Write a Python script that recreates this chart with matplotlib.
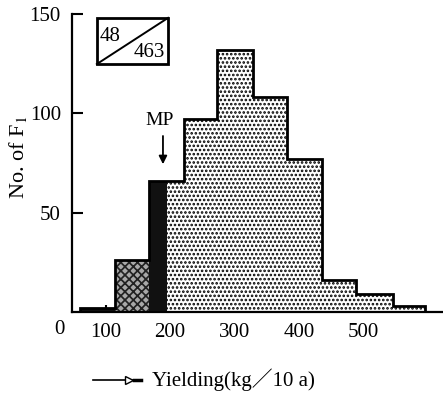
import matplotlib
matplotlib.use("Agg")
import matplotlib.pyplot as plt
from matplotlib.lines import Line2D
from matplotlib.patches import Rectangle

plt.rcParams["font.family"] = ["Liberation Serif", "Noto Sans CJK JP", "DejaVu Sans"]
plt.rcParams["mathtext.fontset"] = "stix"
plt.rcParams["hatch.linewidth"] = 1.25

# yield class edges (kg/10a) and number of F1 plants per class
BIN_EDGES = [60, 115, 168, 222, 273, 328, 382, 435, 488, 545, 595]
COUNTS = [2, 26, 66, 97, 132, 108, 77, 16, 9, 3]
# fill of the part of each class below the mid-parent value
LOW_FILL = ["black", "grey", "black", "dots", "dots", "dots", "dots", "dots", "dots", "dots"]
MP_VALUE = 195
BOX_TOP = "48"
BOX_BOTTOM = "463"
X_TICKS = [100, 200, 300, 400, 500]
Y_TICKS = [50, 100, 150]


def draw_part(ax, left, right, height, style):
    if right <= left:
        return
    if style == "black":
        ax.bar(left, height, width=right - left, align="edge",
               color="#111111", edgecolor="none", zorder=2)
    elif style == "grey":
        ax.bar(left, height, width=right - left, align="edge",
               color="#a8a8a8", edgecolor="#222222", hatch="xxxx",
               linewidth=0, zorder=2)
    else:
        ax.bar(left, height, width=right - left, align="edge",
               color="white", edgecolor="black", hatch="....",
               linewidth=0, zorder=2)


fig = plt.figure(figsize=(4.43, 3.95), dpi=100)
ax = fig.add_axes([0.1625, 0.21, 0.8375, 0.7546])

for i, count in enumerate(COUNTS):
    left, right = BIN_EDGES[i], BIN_EDGES[i + 1]
    split = min(max(MP_VALUE, left), right)
    draw_part(ax, left, split, count, LOW_FILL[i])
    draw_part(ax, split, right, count, "dots")

ax.stairs(COUNTS, BIN_EDGES, baseline=0, color="black", linewidth=2, zorder=3)

ax.set_xlim(48, 623)
ax.set_ylim(0, 150)
ax.spines["top"].set_visible(False)
ax.spines["right"].set_visible(False)
for side in ("left", "bottom"):
    ax.spines[side].set_linewidth(1.6)

ax.set_xticks(X_TICKS)
ax.set_yticks(Y_TICKS)
ax.tick_params(axis="both", direction="in", labelsize=15, width=1.5, pad=8)
ax.tick_params(axis="y", length=8)
ax.tick_params(axis="x", length=5)
ax.text(29, -9, "0", fontsize=15, ha="center", va="center", clip_on=False)

ax.set_ylabel("No. of F$_1$", fontsize=16)
ax.yaxis.set_label_coords(-0.115, 0.52)

# count box
ax.add_patch(Rectangle((0.067, 0.832), 0.192, 0.155, transform=ax.transAxes,
                       fill=False, linewidth=2, clip_on=False, zorder=4))
ax.add_line(Line2D([0.067, 0.259], [0.832, 0.987], transform=ax.transAxes,
                   color="black", linewidth=1.4, clip_on=False))
ax.text(0.075, 0.955, BOX_TOP, transform=ax.transAxes, fontsize=15,
        ha="left", va="top")
ax.text(0.25, 0.84, BOX_BOTTOM, transform=ax.transAxes, fontsize=15,
        ha="right", va="bottom")

# mid-parent marker
ax.text(184, 96.5, "MP", fontsize=14, ha="center", va="center")
ax.annotate("", xy=(189, 73), xytext=(189, 90),
            arrowprops=dict(arrowstyle="-|>", color="black", lw=1.3,
                            mutation_scale=12))

# x axis label with its little arrow
fig.add_artist(Line2D([93 / 443, 132 / 443], [1 - 380 / 395] * 2,
                      color="black", linewidth=1.2))
fig.add_artist(Line2D([129 / 443], [1 - 380 / 395], marker=">", markersize=6,
                      color="black", markerfacecolor="white"))
fig.add_artist(Line2D([134 / 443, 141 / 443], [1 - 380 / 395] * 2,
                      color="black", linewidth=2.5))
fig.text(152 / 443, 1 - 380 / 395, "Yielding(kg／10 a)", fontsize=15,
         ha="left", va="center")

fig.savefig("out.png", dpi=100)
